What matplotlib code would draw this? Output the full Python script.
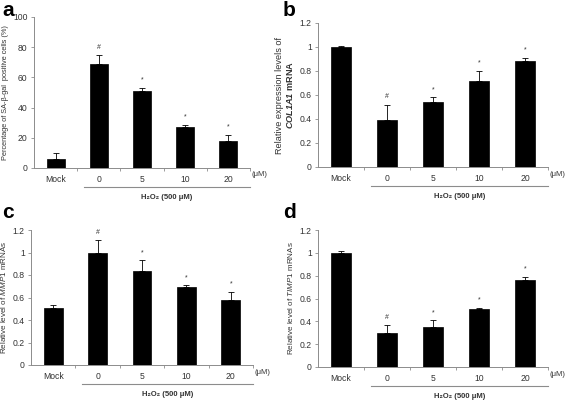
import numpy as np
import matplotlib
matplotlib.use('Agg')
import matplotlib.pyplot as plt
from matplotlib import transforms

plt.rcParams['font.family'] = ['Liberation Sans', 'DejaVu Sans']
plt.rcParams['mathtext.fontset'] = 'custom'
plt.rcParams['mathtext.rm'] = 'Liberation Sans'
plt.rcParams['mathtext.it'] = 'Liberation Sans:italic'
plt.rcParams['mathtext.bf'] = 'Liberation Sans:bold'
plt.rcParams['mathtext.bfit'] = 'Liberation Sans:bold:italic'

W, H = 567, 405

CATS = ['Mock', '0', '5', '10', '20']

SA_GAL = [6, 69, 51, 27, 18]
SA_GAL_ERR = [4, 6, 2, 1.5, 4]
SA_GAL_SIG = ['', '#', '*', '*', '*']

COL1A1 = [1.0, 0.39, 0.54, 0.72, 0.88]
COL1A1_ERR = [0.01, 0.13, 0.04, 0.08, 0.03]
COL1A1_SIG = ['', '#', '*', '*', '*']

MMP1 = [0.51, 1.0, 0.84, 0.69, 0.58]
MMP1_ERR = [0.02, 0.11, 0.09, 0.02, 0.07]
MMP1_SIG = ['', '#', '*', '*', '*']

TIMP1 = [1.0, 0.30, 0.35, 0.51, 0.76]
TIMP1_ERR = [0.02, 0.07, 0.06, 0.01, 0.03]
TIMP1_SIG = ['', '#', '*', '*', '*']

AX_GRAY = '#8c8c8c'
TXT = '#333333'


def panel(fig, box, vals, errs, sigs, ylim, yticks, yticklabels, ylabel,
          letter, letter_xy, ylabel_fs=5.3):
   x0, y0, x1, y1 = box           # pixel box, y from top
   ax = fig.add_axes([x0 / W, 1 - y1 / H, (x1 - x0) / W, (y1 - y0) / H])
   idx = np.arange(len(vals))
   ax.bar(idx, vals, width=0.42, color='black', edgecolor='black',
      linewidth=0.5, zorder=2)
   # upper half error bars only
   ax.errorbar(idx, vals, yerr=[np.zeros(len(vals)), errs], fmt='none',
      ecolor='black', elinewidth=0.6, capsize=2.0, capthick=0.6, zorder=1)
   for i, (v, e, s) in enumerate(zip(vals, errs, sigs)):
      if s:
         ax.annotate(s, xy=(i, v + e), xytext=(0, 3), textcoords='offset points',
            ha='center', va='bottom', fontsize=5, color=TXT)

   ax.set_xlim(-0.5, len(vals) - 0.5)
   ax.set_ylim(*ylim)
   ax.set_yticks(yticks)
   ax.set_yticklabels(yticklabels)
   ax.set_xticks(idx)
   ax.set_xticklabels(CATS)
   ax.set_xticks(list(idx + 0.5), minor=True)
   ax.tick_params(axis='x', which='major', length=0, pad=5, labelsize=6.2,
      labelcolor=TXT)
   ax.tick_params(axis='x', which='minor', length=2.5, color=AX_GRAY, width=0.6)
   ax.tick_params(axis='y', length=2.5, color=AX_GRAY, width=0.6, labelsize=6.2,
      labelcolor=TXT, pad=2)
   for side in ('top', 'right'):
      ax.spines[side].set_visible(False)
   for side in ('left', 'bottom'):
      ax.spines[side].set_color(AX_GRAY)
      ax.spines[side].set_linewidth(0.7)
   ax.set_ylabel(ylabel, fontsize=ylabel_fs, color=TXT, labelpad=3)

   hpx = y1 - y0
   blend = transforms.blended_transform_factory(ax.transData, ax.transAxes)
   ax.text(len(vals) - 0.5 + 0.04, -7.0 / hpx, '(\u03bcM)', transform=blend,
      ha='left', va='center', fontsize=5.5, color=TXT)
   ax.plot([0.65, len(vals) - 0.5], [-19.0 / hpx] * 2, transform=blend,
      color=AX_GRAY, lw=0.8, clip_on=False)
   ax.text((0.65 + len(vals) - 0.5) / 2, -30.0 / hpx,
      'H\u2082O\u2082 (500 \u03bcM)', transform=blend, ha='center',
      va='center', fontsize=5.5, fontweight='bold', color=TXT)
   fig.text(letter_xy[0] / W, 1 - letter_xy[1] / H, letter, fontsize=15,
      fontweight='bold', ha='left', va='center')
   return ax


fig = plt.figure(figsize=(W / 100, H / 100), dpi=100)

tick12 = [0, 0.2, 0.4, 0.6, 0.8, 1.0, 1.2]
lab12 = ['0', '0.2', '0.4', '0.6', '0.8', '1', '1.2']

panel(fig, (34, 17, 250, 168), SA_GAL, SA_GAL_ERR, SA_GAL_SIG, (0, 100),
   [0, 20, 40, 60, 80, 100], ['0', '20', '40', '60', '80', '100'],
   'Percentage of SA-\u03b2-gal  positive cells (%)', 'a', (2, 10))

panel(fig, (318, 23, 548, 167), COL1A1, COL1A1_ERR, COL1A1_SIG, (0, 1.2),
   tick12, lab12,
   'Relative expression levels of\n' + r'$\mathbfit{COL1A1}\ \mathbf{mRNA}$',
   'b', (283, 10), ylabel_fs=6.6)

panel(fig, (31, 230, 253, 365), MMP1, MMP1_ERR, MMP1_SIG, (0, 1.2),
   tick12, lab12, 'Relative level of ' + r'$\mathit{MMP1}$' + ' mRNAs',
   'c', (2, 212), ylabel_fs=5.8)

panel(fig, (318, 230, 548, 367), TIMP1, TIMP1_ERR, TIMP1_SIG, (0, 1.2),
   tick12, lab12, 'Relative level of ' + r'$\mathit{TIMP1}$' + ' mRNAs',
   'd', (283, 212), ylabel_fs=5.8)

fig.savefig('out.png', dpi=100)
